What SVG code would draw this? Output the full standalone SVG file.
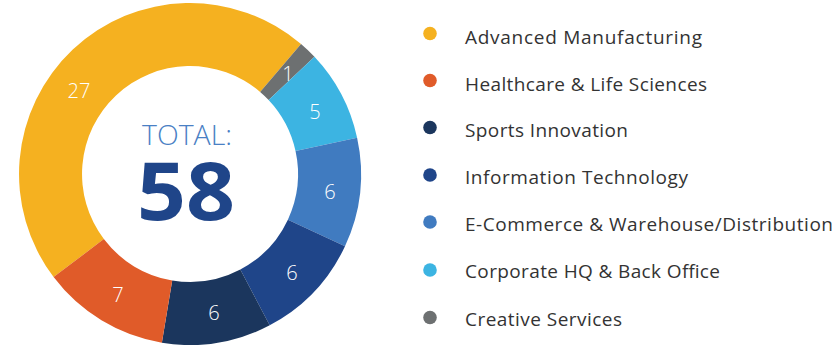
<svg xmlns="http://www.w3.org/2000/svg" width="836" height="345" viewBox="0 0 836 345">
<style>
.lbl{font-family:"Open Sans","Liberation Sans",sans-serif;font-size:20px;font-weight:300;fill:#ffffff;text-anchor:middle}
.leg{font-family:"Open Sans","Liberation Sans",sans-serif;font-size:19px;font-weight:400;fill:#333333}
</style>
<rect width="836" height="345" fill="#ffffff"/>
<g id="donut">
<g id="seg-advanced-manufacturing"><path d="M53.59,277.11 A171,171 0 0 1 301.05,43.97 L260.14,91.88 A108,108 0 0 0 103.85,239.12 Z" fill="#F5B120"/><text class="lbl" x="79" y="98">27</text></g>
<g id="seg-creative-services"><path d="M301.05,43.97 A171,171 0 0 1 314.47,56.75 L268.61,99.94 A108,108 0 0 0 260.14,91.88 Z" fill="#6D7071"/><text class="lbl" x="288" y="81">1</text></g>
<g id="seg-corporate-hq"><path d="M314.47,56.75 A171,171 0 0 1 357.10,137.70 L295.54,151.07 A108,108 0 0 0 268.61,99.94 Z" fill="#3CB4E2"/><text class="lbl" x="315" y="119">5</text></g>
<g id="seg-ecommerce"><path d="M357.10,137.70 A171,171 0 0 1 345.00,246.25 L287.89,219.63 A108,108 0 0 0 295.54,151.07 Z" fill="#407BC0"/><text class="lbl" x="330" y="199">6</text></g>
<g id="seg-information-technology"><path d="M345.00,246.25 A171,171 0 0 1 269.69,325.28 L240.33,269.55 A108,108 0 0 0 287.89,219.63 Z" fill="#1F4589"/><text class="lbl" x="292" y="280">6</text></g>
<g id="seg-sports-innovation"><path d="M269.69,325.28 A171,171 0 0 1 161.87,342.67 L172.23,280.53 A108,108 0 0 0 240.33,269.55 Z" fill="#1B365D"/><text class="lbl" x="214" y="320">6</text></g>
<g id="seg-healthcare"><path d="M161.87,342.67 A171,171 0 0 1 53.59,277.11 L103.85,239.12 A108,108 0 0 0 172.23,280.53 Z" fill="#E05B29"/><text class="lbl" x="118" y="302">7</text></g>
</g>
<g id="total">
<text x="187" y="145" font-family="'Open Sans','Liberation Sans',sans-serif" font-size="27" font-weight="300" fill="#4A80C4" text-anchor="middle" textLength="90" lengthAdjust="spacingAndGlyphs">TOTAL:</text>
<text x="186" y="220" font-family="'Open Sans','Liberation Sans',sans-serif" font-size="80" font-weight="700" fill="#1F4589" text-anchor="middle" textLength="98" lengthAdjust="spacingAndGlyphs">58</text>
</g>
<g id="legend">
<g id="leg-1"><circle cx="430" cy="33.5" r="6.8" fill="#F5B120"/><text class="leg" x="465" y="44" textLength="237">Advanced Manufacturing</text></g>
<g id="leg-2"><circle cx="430" cy="80.5" r="6.8" fill="#E05B29"/><text class="leg" x="465" y="90.5" textLength="242">Healthcare &amp; Life Sciences</text></g>
<g id="leg-3"><circle cx="430" cy="127.5" r="6.8" fill="#1B365D"/><text class="leg" x="465" y="137" textLength="163">Sports Innovation</text></g>
<g id="leg-4"><circle cx="430" cy="175" r="6.8" fill="#1F4589"/><text class="leg" x="465" y="184" textLength="223">Information Technology</text></g>
<g id="leg-5"><circle cx="430" cy="222" r="6.8" fill="#407BC0"/><text class="leg" x="465" y="231" textLength="368">E-Commerce &amp; Warehouse/Distribution</text></g>
<g id="leg-6"><circle cx="430" cy="270" r="6.8" fill="#3CB4E2"/><text class="leg" x="465" y="278" textLength="255">Corporate HQ &amp; Back Office</text></g>
<g id="leg-7"><circle cx="430" cy="317.5" r="6.8" fill="#6D7071"/><text class="leg" x="465" y="325.5" textLength="157">Creative Services</text></g>
</g>
</svg>
